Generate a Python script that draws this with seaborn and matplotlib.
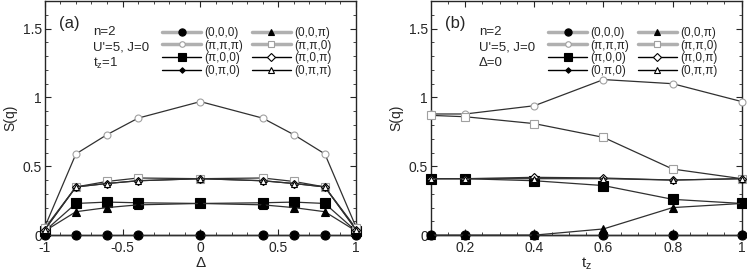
import numpy as np
import pandas as pd
import seaborn as sns
import matplotlib.pyplot as plt
from matplotlib.lines import Line2D
from matplotlib.ticker import MultipleLocator

sns.set_style("ticks")
plt.rcParams['font.family'] = ['Liberation Sans', 'DejaVu Sans']
plt.rcParams['mathtext.fontset'] = 'custom'
plt.rcParams['mathtext.rm'] = 'Liberation Sans'
plt.rcParams['mathtext.it'] = 'Liberation Sans'

# legend labels (column-major order for a 2-column legend)
labels = ['(0,0,0)', '(π,π,π)', '(π,0,0)', '(0,π,0)',
          '(0,0,π)', '(π,π,0)', '(π,0,π)', '(0,π,π)']

# panel (a): S(q) vs Delta, t_z = 1
delta = [-1, -0.8, -0.6, -0.4, 0, 0.4, 0.6, 0.8, 1]
a_000 = [0, 0, 0, 0, 0, 0, 0, 0, 0]
a_ppp = [0.06, 0.59, 0.73, 0.85, 0.97, 0.85, 0.73, 0.59, 0.06]
a_p00 = [0.03, 0.23, 0.24, 0.235, 0.23, 0.235, 0.24, 0.23, 0.03]
a_0p0 = [0, 0, 0, 0, 0, 0, 0, 0, 0]
a_00p = [0.03, 0.17, 0.20, 0.22, 0.23, 0.22, 0.20, 0.17, 0.03]
a_pp0 = [0.05, 0.35, 0.39, 0.415, 0.41, 0.415, 0.39, 0.35, 0.05]
a_p0p = [0.04, 0.35, 0.375, 0.395, 0.41, 0.395, 0.375, 0.35, 0.04]
a_0pp = [0.04, 0.35, 0.375, 0.395, 0.41, 0.395, 0.375, 0.35, 0.04]

# panel (b): S(q) vs t_z, Delta = 0
tz = [0.1, 0.2, 0.4, 0.6, 0.8, 1.0]
b_000 = [0, 0, 0, 0, 0, 0]
b_ppp = [0.88, 0.88, 0.94, 1.13, 1.10, 0.97]
b_p00 = [0.41, 0.41, 0.395, 0.36, 0.26, 0.23]
b_0p0 = [0, 0, 0, 0, 0, 0]
b_00p = [0, 0, 0, 0.045, 0.20, 0.23]
b_pp0 = [0.87, 0.86, 0.81, 0.71, 0.48, 0.41]
b_p0p = [0.41, 0.41, 0.42, 0.415, 0.40, 0.41]
b_0pp = [0.41, 0.41, 0.41, 0.41, 0.40, 0.41]

# marker styles: (marker, size, face, edge)
styles = [('o', 6.5, 'black', 'black'),
          ('o', 5, 'white', '#a0a0a0'),
          ('s', 6.5, 'black', 'black'),
          ('D', 3.5, 'black', 'black'),
          ('^', 6, 'black', 'black'),
          ('s', 5.5, 'white', '#a0a0a0'),
          ('D', 4.5, 'white', 'black'),
          ('^', 5, 'white', 'black')]
leg_line = [('#b0b0b0', 2.5), ('#b0b0b0', 2.5), ('black', 1), ('black', 1),
            ('#b0b0b0', 2.5), ('#b0b0b0', 2.5), ('black', 1), ('black', 1)]

fig, axes = plt.subplots(1, 2, figsize=(7.47, 2.75), dpi=100)
fig.subplots_adjust(left=0.060, right=0.993, bottom=0.145, top=0.996, wspace=0.24)

panels = [
    (axes[0], delta, [a_000, a_ppp, a_p00, a_0p0, a_00p, a_pp0, a_p0p, a_0pp],
     '(a)', ['n=2', "U'=5, J=0", 't$_z$=1'], 'Δ'),
    (axes[1], tz, [b_000, b_ppp, b_p00, b_0p0, b_00p, b_pp0, b_p0p, b_0pp],
     '(b)', ['n=2', "U'=5, J=0", 'Δ=0'], 't$_z$'),
]

for ax, xs, series, tag, info, xlab in panels:
    for ys, (m, ms, fc, ec) in zip(series, styles):
        df = pd.DataFrame({'x': xs, 'y': ys})
        sns.lineplot(data=df, x='x', y='y', ax=ax, color='#303030', linewidth=0.9,
                     marker=m, markersize=ms, markerfacecolor=fc,
                     markeredgecolor=ec, markeredgewidth=0.8, clip_on=False, zorder=3)
    ax.set_ylim(0, 1.7)
    ax.set_ylabel('S(q)', fontsize=10)
    ax.set_xlabel(xlab, fontsize=11, labelpad=1)
    ax.yaxis.set_minor_locator(MultipleLocator(0.1))
    ax.set_yticks([0, 0.5, 1, 1.5])
    ax.set_yticklabels(['0', '0.5', '1', '1.5'])
    ax.tick_params(which='both', direction='in', top=True, right=True, labelsize=10)
    ax.tick_params(axis='y', pad=2)
    ax.tick_params(axis='x', pad=4)
    ax.tick_params(which='major', length=4, width=0.8)
    ax.tick_params(which='minor', length=2, width=0.6)
    for sp in ax.spines.values():
        sp.set_linewidth(1.0)
    ax.text(0.045, 0.905, tag, transform=ax.transAxes, fontsize=12, va='center')
    for i, t in enumerate(info):
        ax.text(0.155, 0.87 - i * 0.068, t, transform=ax.transAxes, fontsize=9.5, va='center')
    handles = [Line2D([0], [0], color=lc, linewidth=lw, marker=m, markersize=ms * 0.8,
                      markerfacecolor=fc, markeredgecolor=ec, markeredgewidth=0.8)
               for (lc, lw), (m, ms, fc, ec) in zip(leg_line, styles)]
    ax.legend(handles, labels, ncol=2, loc='upper right', bbox_to_anchor=(0.945, 0.92),
              frameon=False, fontsize=8.5, handlelength=3.3, handletextpad=0.3,
              columnspacing=0.7, labelspacing=0.06, borderpad=0.1)

axes[0].set_xlim(-1, 1)
axes[0].set_xticks([-1, -0.5, 0, 0.5, 1])
axes[0].set_xticklabels(['-1', '-0.5', '0', '0.5', '1'])
axes[0].xaxis.set_minor_locator(MultipleLocator(0.1))
axes[1].set_xlim(0.1, 1)
axes[1].set_xticks([0.2, 0.4, 0.6, 0.8, 1])
axes[1].set_xticklabels(['0.2', '0.4', '0.6', '0.8', '1'])
axes[1].xaxis.set_minor_locator(MultipleLocator(0.05))

fig.savefig('out.png', dpi=100)
